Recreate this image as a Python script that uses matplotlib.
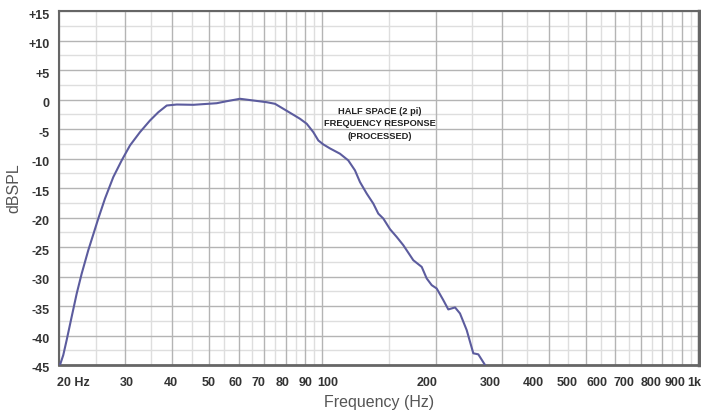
import numpy as np
import matplotlib.pyplot as plt
import matplotlib.transforms as mtransforms
from matplotlib.ticker import FixedLocator

# frequency response
freq = [20.12, 20.53, 20.96, 21.61, 22.29, 22.98, 23.92, 25.43, 26.49, 27.87, 29.34,
        30.87, 32.81, 34.89, 36.71, 38.64, 41.07, 45.46, 52.45, 55.75, 60.47, 65.62,
        71.19, 74.89, 78.79, 82.94, 87.26, 90.91, 94.65, 97.59, 100.6, 104.8, 111.4,
        117.2, 122.1, 125.9, 131.2, 136.6, 140.8, 145.2, 151.3, 157.6, 164.1, 174.4,
        183.6, 189.3, 195.2, 201.2, 209.5, 216.0, 225.1, 232.0, 241.7, 251.7, 259.5,
        270.4]
spl = [-45.0, -43.31, -40.77, -36.83, -32.87, -29.49, -25.55, -20.18, -16.80, -13.15,
       -10.32, -7.78, -5.53, -3.55, -2.15, -1.02, -0.85, -0.90, -0.63, -0.29, 0.12,
       -0.17, -0.46, -0.73, -1.57, -2.42, -3.27, -4.11, -5.53, -6.94, -7.61, -8.29,
       -9.19, -10.32, -12.01, -13.99, -15.95, -17.65, -19.34, -20.18, -21.99, -23.30,
       -24.70, -27.24, -28.37, -30.33, -31.47, -32.03, -34.00, -35.58, -35.24, -36.26,
       -39.08, -43.02, -43.19, -45.0]

# labels sit a little off the grid lines in the original, so they get their own spots
x_labels = ['20 Hz', '30', '40', '50', '60', '70', '80', '90', '100', '200', '300',
            '400', '500', '600', '700', '800', '900', '1k']
x_label_pos = [21.8, 30.2, 39.6, 50.0, 59.0, 67.7, 78.4, 90.0, 103.6, 189.4, 278.7,
               362.7, 446.5, 537.7, 632, 745, 863, 970]
x_grid = [20, 30, 40, 50, 60, 70, 80, 90, 100, 200, 300, 400, 500, 600, 700, 800, 900, 1000]
x_grid_minor = [25, 35, 45, 55, 65, 75, 85, 95, 150, 250, 350, 450, 550, 650, 750, 850, 950]
y_ticks = list(range(-45, 16, 5))
y_labels = ['+%d' % v if v > 0 else '%d' % v for v in y_ticks]
y_minor = list(np.arange(-42.5, 15, 5))

plt.rcParams['font.family'] = ['Liberation Sans', 'DejaVu Sans']

fig = plt.figure(figsize=(7.01, 4.12), dpi=100)
ax = fig.add_axes([59/701, 1 - 365/412, 640/701, 354/412])

ax.set_xscale('log')
ax.set_xlim(20, 1000)
ax.set_ylim(-45, 15)

ax.xaxis.set_major_locator(FixedLocator(x_label_pos))
ax.xaxis.set_minor_locator(FixedLocator([]))
ax.set_xticklabels(x_labels)
ax.set_yticks(y_ticks)
ax.set_yticklabels(y_labels)
ax.yaxis.set_minor_locator(FixedLocator(y_minor))

ax.grid(axis='y', which='major', color='#b4b4b4', linewidth=1.0)
ax.grid(axis='y', which='minor', color='#dedede', linewidth=1.0)
for f in x_grid_minor:
    ax.axvline(f, color='#dedede', linewidth=1.0, zorder=0.5)
for f in x_grid:
    ax.axvline(f, color='#b4b4b4', linewidth=1.0, zorder=0.6)
ax.set_axisbelow(True)

ax.tick_params(which='both', length=0)
ax.tick_params(axis='x', pad=9, labelsize=9, labelcolor='#333333')
ax.tick_params(axis='y', pad=7, labelsize=9, labelcolor='#333333')
shift = mtransforms.ScaledTranslation(0, -3/100, fig.dpi_scale_trans)
for lab in ax.get_xticklabels():
    lab.set_fontweight('bold')
for lab in ax.get_yticklabels():
    lab.set_fontweight('bold')
    lab.set_transform(lab.get_transform() + shift)

for s in ax.spines.values():
    s.set_color('#666666')
    s.set_linewidth(1.5)
ax.spines['right'].set_linewidth(2.5)
ax.spines['bottom'].set_linewidth(2.0)

ax.plot(freq, spl, color='#5c5c9e', linewidth=1.5, zorder=3)

ax.text(142, -4.15, 'HALF SPACE (2 pi)\nFREQUENCY RESPONSE\n(PROCESSED)',
        ha='center', va='center', fontsize=6.7, fontweight='bold',
        color='#222222', linespacing=1.45, zorder=4)

ax.set_xlabel('Frequency (Hz)', fontsize=11.5, color='#555555', labelpad=4)
ax.set_ylabel('dBSPL', fontsize=11.5, color='#555555', labelpad=5)

fig.savefig('out.png', dpi=100)
